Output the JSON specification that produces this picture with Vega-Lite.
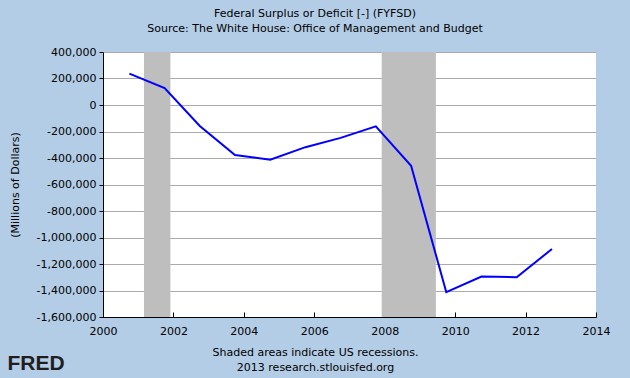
{
  "$schema": "https://vega.github.io/schema/vega-lite/v6.json",
  "width": 493,
  "height": 265,
  "autosize": {"type": "none"},
  "padding": {"left": 103, "top": 52, "right": 34, "bottom": 61},
  "background": "#b4cde6",
  "title": {
    "text": "Federal Surplus or Deficit [-] (FYFSD)",
    "subtitle": "Source: The White House: Office of Management and Budget",
    "anchor": "middle",
    "dx": -34.5,
    "offset": 12,
    "font": "DejaVu Sans",
    "fontSize": 11,
    "fontWeight": "normal",
    "color": "#000000",
    "subtitleFont": "DejaVu Sans",
    "subtitleFontSize": 11,
    "subtitleColor": "#000000",
    "subtitlePadding": 4
  },
  "datasets": {
    "recessions": [
      {"start": "2001-03-01", "end": "2001-11-30"},
      {"start": "2007-12-01", "end": "2009-06-15"}
    ],
    "deficit": [
      {"date": "2000-10-01", "value": 236241},
      {"date": "2001-10-01", "value": 128236},
      {"date": "2002-10-01", "value": -157758},
      {"date": "2003-10-01", "value": -377585},
      {"date": "2004-10-01", "value": -412727},
      {"date": "2005-10-01", "value": -318346},
      {"date": "2006-10-01", "value": -248181},
      {"date": "2007-10-01", "value": -160701},
      {"date": "2008-10-01", "value": -458553},
      {"date": "2009-10-01", "value": -1412688},
      {"date": "2010-10-01", "value": -1294373},
      {"date": "2011-10-01", "value": -1299599},
      {"date": "2012-10-01", "value": -1086963}
    ]
  },
  "layer": [
    {
      "data": {"name": "recessions"},
      "mark": {"type": "rect", "color": "#bebebe"},
      "encoding": {
        "x": {
          "field": "start",
          "type": "temporal",
          "scale": {"type": "utc", "domain": [{"year": 2000, "utc": true}, {"year": 2014, "utc": true}]},
          "axis": {
            "orient": "bottom",
            "domain": false,
            "ticks": false,
            "labels": false,
            "grid": false,
            "title": "FRED",
            "titleFont": "Liberation Sans",
            "titleFontSize": 21,
            "titleFontWeight": "bold",
            "titleColor": "#1e1e1e",
            "titleAlign": "left",
            "titleBaseline": "middle",
            "titleX": -96,
            "titleY": 46
          }
        },
        "x2": {"field": "end"}
      }
    },
    {
      "data": {"name": "deficit"},
      "mark": {"type": "line", "color": "#0000ff", "strokeWidth": 2},
      "encoding": {
        "x": {
          "field": "date",
          "type": "temporal",
          "axis": {
            "orient": "bottom",
            "format": "%Y",
            "tickCount": {"interval": "year", "step": 2},
            "grid": false,
            "domainColor": "#000000",
            "tickColor": "#000000",
            "tickSize": -5,
            "labelPadding": 13,
            "labelFont": "DejaVu Sans",
            "labelFontSize": 11,
            "labelColor": "#000000",
            "labelFlush": false,
            "title": ["Shaded areas indicate US recessions.", "2013 research.stlouisfed.org"],
            "titleFont": "DejaVu Sans",
            "titleFontSize": 11,
            "titleFontWeight": "normal",
            "titleColor": "#000000",
            "titleLineHeight": 15,
            "titleAlign": "center",
            "titleBaseline": "top",
            "titleX": 212,
            "titleY": 29
          }
        },
        "y": {
          "field": "value",
          "type": "quantitative",
          "scale": {"domain": [-1600000, 400000], "nice": false, "zero": false},
          "axis": {
            "values": [400000, 200000, 0, -200000, -400000, -600000, -800000, -1000000, -1200000, -1400000, -1600000],
            "format": ",d",
            "grid": true,
            "gridColor": "#aaaaaa",
            "gridWidth": 1,
            "gridOpacity": 1,
            "domainColor": "#000000",
            "tickColor": "#000000",
            "tickSize": 4,
            "labelPadding": 3,
            "labelFont": "DejaVu Sans",
            "labelFontSize": 11,
            "labelColor": "#000000",
            "labelFlush": false,
            "title": "(Millions of Dollars)",
            "titleFont": "DejaVu Sans",
            "titleFontSize": 11,
            "titleFontWeight": "normal",
            "titleColor": "#000000",
            "titleAngle": -90,
            "titleAlign": "center",
            "titleBaseline": "middle",
            "titleX": -88,
            "titleY": 132.5
          }
        }
      }
    }
  ],
  "resolve": {"axis": {"x": "independent"}},
  "config": {
    "view": {"fill": "#ffffff", "stroke": null},
    "locale": {
      "number": {"decimal": ".", "thousands": ",", "grouping": [3], "currency": ["$", ""], "minus": "-"}
    }
  }
}
